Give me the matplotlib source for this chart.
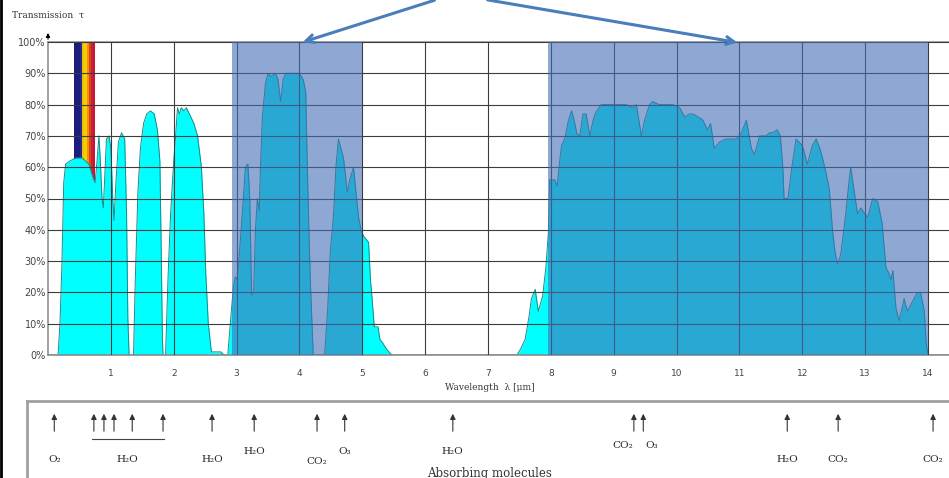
import numpy as np
import matplotlib
matplotlib.use('Agg')
import matplotlib.pyplot as plt
from matplotlib.colors import ListedColormap

# transmission spectrum (wavelength in um, transmission in %)
wavelength = [0.00, 0.16, 0.19, 0.22, 0.25, 0.28, 0.35, 0.44, 0.54, 0.65, 0.71, 0.75, 0.78, 0.81, 0.83,
              0.86, 0.88, 0.90, 0.93, 0.97, 1.00, 1.03, 1.05, 1.08, 1.12, 1.17, 1.22, 1.25, 1.27, 1.29,
              1.36, 1.39, 1.43, 1.47, 1.52, 1.57, 1.63, 1.69, 1.74, 1.78, 1.80, 1.82, 1.83,
              1.87, 1.91, 1.95, 2.00, 2.03, 2.06, 2.09, 2.12, 2.16, 2.20, 2.25, 2.32, 2.38, 2.44, 2.48,
              2.51, 2.55, 2.60, 2.75, 2.80,
              2.86, 2.90, 2.95, 2.98, 3.01, 3.05, 3.10, 3.14, 3.18, 3.21, 3.24, 3.27, 3.30, 3.33, 3.36,
              3.38, 3.41, 3.46, 3.50, 3.55, 3.62, 3.66, 3.70, 3.74, 3.78, 3.90, 4.00, 4.06, 4.10, 4.12,
              4.15, 4.18, 4.22,
              4.40, 4.45, 4.49, 4.54, 4.58, 4.62, 4.66, 4.70, 4.73, 4.76, 4.80, 4.86, 4.90, 4.94, 4.98,
              5.02, 5.10, 5.13, 5.16, 5.19, 5.25, 5.28, 5.32, 5.38, 5.47,
              7.46, 7.52, 7.59, 7.65, 7.69, 7.75, 7.80, 7.87, 7.92, 7.96, 7.98, 8.06, 8.10, 8.14, 8.17,
              8.22, 8.28, 8.33, 8.37, 8.41, 8.46, 8.51, 8.56, 8.62, 8.66, 8.70, 8.80, 8.86, 9.00, 9.20,
              9.30, 9.36, 9.40, 9.44, 9.49, 9.57, 9.62, 9.72, 9.94, 10.05, 10.13, 10.20, 10.26, 10.35,
              10.42, 10.49, 10.54, 10.60, 10.68, 10.78, 10.95, 11.03, 11.11, 11.19, 11.24, 11.32, 11.42,
              11.48, 11.53, 11.60, 11.65, 11.69, 11.71, 11.77, 11.84, 11.90, 11.95, 12.00, 12.08, 12.16,
              12.22, 12.28, 12.32, 12.38, 12.43, 12.48, 12.52, 12.56, 12.61, 12.69, 12.74, 12.77, 12.82,
              12.88, 12.93, 13.00, 13.04, 13.12, 13.20, 13.27, 13.33, 13.38, 13.41, 13.44, 13.49, 13.54,
              13.62, 13.67, 13.75, 13.83, 13.88, 13.94, 13.97, 14.00, 14.33]
transmission = [0, 0, 10, 28, 55, 61, 62, 63, 63, 61, 57, 55, 62, 70, 63,
                50, 47, 56, 69, 70, 66, 50, 43, 55, 68, 71, 69, 45, 12, 0,
                0, 25, 52, 66, 74, 77, 78, 77, 72, 62, 35, 5, 0,
                0, 25, 45, 62, 70, 79, 77, 79, 78, 79, 77, 74, 70, 60, 45,
                26, 10, 1, 1, 0,
                0, 10, 22, 25, 24, 34, 48, 60, 61, 50, 19, 20, 40, 50, 46,
                60, 76, 87, 90, 89, 90, 88, 81, 88, 90, 90, 90, 88, 84, 65,
                40, 20, 0,
                0, 15, 33, 44, 60, 69, 66, 63, 58, 52, 56, 60, 52, 44, 40,
                38, 36, 24, 17, 9, 9, 5, 4, 2, 0,
                0, 2, 5, 12, 18, 21, 14, 19, 28, 39, 56, 56, 54, 62, 67,
                69, 75, 78, 75, 71, 70, 77, 77, 70, 74, 77, 80, 80, 80, 80,
                79, 80, 75, 70, 75, 80, 81, 80, 80, 79, 76, 77, 77, 76,
                75, 72, 74, 66, 68, 69, 69, 71, 75, 66, 64, 70, 70,
                71, 71, 72, 70, 60, 50, 50, 61, 69, 68, 67, 61, 67,
                69, 66, 63, 58, 53, 40, 33, 29, 32, 45, 55, 60, 53,
                45, 47, 45, 44, 50, 49, 42, 28, 26, 24, 27, 15, 11,
                18, 14, 17, 20, 20, 14, 4, 0, 0]

# atmospheric windows (shaded)
windows = [(2.92, 5.0), (7.96, 14.0)]

# visible light band
visible = (0.41, 0.74)
rainbow = ['#1c1c7c', '#1c1c7c', '#1c1c7c', '#2a2490', '#e8c400', '#f4d000',
           '#f09010', '#e04020', '#d02030', '#c0183c']

# absorbing molecules: arrow positions (um)
absorb_pos = [0.10, 0.73, 0.89, 1.05, 1.34, 1.83, 2.61, 3.28, 4.28, 4.72, 6.44,
              9.32, 9.47, 11.76, 12.57, 14.08]
mol_labels = ['O₂', 'H₂O', 'H₂O', 'H₂O', 'CO₂', 'O₃', 'H₂O', 'CO₂', 'O₃', 'H₂O', 'CO₂', 'CO₂']
mol_x = [0.10, 1.26, 2.61, 3.28, 4.28, 4.72, 6.44, 9.15, 9.61, 11.76, 12.57, 14.08]
mol_row = [460, 460, 460, 452, 462, 452, 452, 446, 446, 460, 460, 460]

W, H = 949, 478
x0, x1 = 48, 949      # pixel columns of plot area
ppu = 62.86           # pixels per micrometre
fig = plt.figure(figsize=(W / 100, H / 100), dpi=100)
fig.patch.set_facecolor('white')

ax = fig.add_axes([x0 / W, 123 / H, (x1 - x0) / W, 313 / H])
xmax = (x1 - x0) / ppu

ax.imshow(np.arange(len(rainbow)).reshape(1, -1), cmap=ListedColormap(rainbow),
          extent=[visible[0], visible[1], 50, 100], aspect='auto', zorder=1,
          interpolation='nearest')
ax.fill_between(wavelength, transmission, 0, color='#00ffff', lw=0, zorder=2)
ax.plot(wavelength, transmission, color='#1a8a8a', lw=0.7, zorder=2.2)
for a, b in windows:
    ax.axvspan(a, b, color='#436eb7', alpha=0.6, lw=0, zorder=3)

ax.set_xlim(0, xmax)
ax.set_ylim(0, 100)
ax.set_axisbelow(False)
ax.set_xticks(range(1, 15))
ax.set_yticks(range(0, 101, 10))
ax.set_yticklabels([f'{v}%' for v in range(0, 101, 10)])
ax.grid(True, color='#3c3c3c', lw=0.8)
ax.tick_params(length=0, labelsize=6.5, colors='#444444')
ax.tick_params(axis='y', labelsize=7)
ax.tick_params(axis='x', pad=10)
ax.tick_params(axis='y', pad=1.5)
for s in ['left', 'bottom', 'top']:
    ax.spines[s].set_color('#909090')
    ax.spines[s].set_linewidth(1.2)
ax.spines['right'].set_visible(False)

serif = ['DejaVu Serif']
ax.annotate('', xy=(0, 103.8), xytext=(0, 100), annotation_clip=False,
            arrowprops=dict(arrowstyle='-|>', color='black', lw=0.8, mutation_scale=6))
ax.text(-0.57, 108.6, 'Transmission  τ', fontsize=6.5, family=serif, color='#333333',
        ha='left', va='center')
ax.text(7.03, -10.5, 'Wavelength  λ [μm]', fontsize=6.5, family=serif, color='#333333',
        ha='center', va='center')

# blue pointer arrows to the windows
for tip in [(4.01, 99.7), (11.01, 99.7)]:
    start = (6.19, 113.6) if tip[0] < 7 else (6.95, 113.6)
    ax.annotate('', xy=tip, xytext=start, annotation_clip=False,
                arrowprops=dict(arrowstyle='->', color='#4a7ebb', lw=2.2, mutation_scale=14))

# absorbing molecules panel
ax2 = fig.add_axes([27 / W, 0, (W - 27) / W, 77 / H])
ax2.set_xlim(-21 / ppu, xmax)
ax2.set_ylim(478, 401)
ax2.set_xticks([])
ax2.set_yticks([])
for s in ['right', 'bottom']:
    ax2.spines[s].set_visible(False)
for s in ['top', 'left']:
    ax2.spines[s].set_color('#a0a0a0')
    ax2.spines[s].set_linewidth(2)

for p in absorb_pos:
    ax2.annotate('', xy=(p, 411), xytext=(p, 434),
                 arrowprops=dict(arrowstyle='-|>', color='#333333', lw=0.8, mutation_scale=8))
ax2.plot([0.70, 1.85], [439, 439], color='#444444', lw=0.8)
for lbl, px, row in zip(mol_labels, mol_x, mol_row):
    ax2.text(px, row, lbl, fontsize=7.5, family=serif, color='#222222', ha='center', va='center')
ax2.text(7.03, 473, 'Absorbing molecules', fontsize=8.5, family=serif, color='#333333',
         ha='center', va='center')

fig.add_artist(plt.Line2D([0.001, 0.001], [0, 1], transform=fig.transFigure,
                          color='black', lw=2))

fig.savefig('out.png', dpi=100)
